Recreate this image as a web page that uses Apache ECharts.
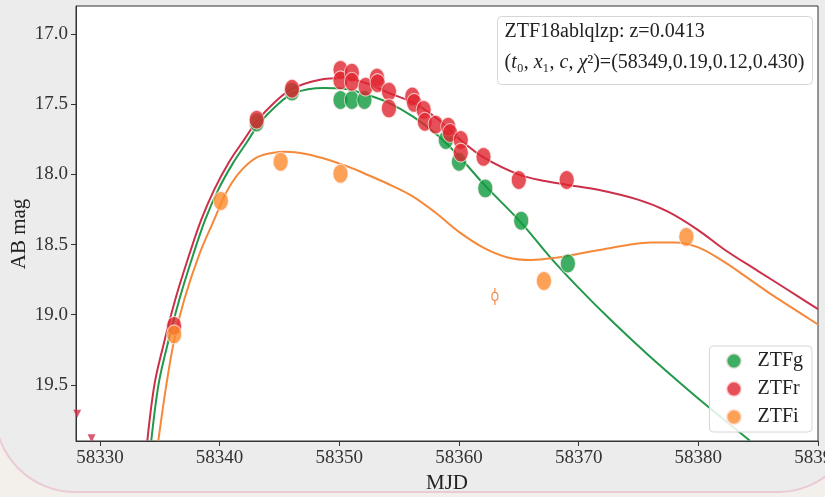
<!DOCTYPE html>
<html>
<head>
<meta charset="utf-8">
<script src="https://cdn.jsdelivr.net/npm/echarts@6/dist/echarts.min.js"></script>
<style>
html,body{margin:0;padding:0;background:#f3efeb;}
#chart{width:825px;height:497px;}
</style>
</head>
<body>
<div id="chart"></div>
<script>
// ---------- data ----------
const xTicks = [58330, 58340, 58350, 58360, 58370, 58380, 58390];
const yTicks = [17.0, 17.5, 18.0, 18.5, 19.0, 19.5];

const gMJD = [58343.1, 58346.05, 58350.1, 58351.05, 58352.1, 58358.9, 58360.0, 58362.2, 58365.2, 58369.1];
const gMag = [17.63, 17.41, 17.47, 17.47, 17.47, 17.755, 17.91, 18.10, 18.33, 18.635];

const rMJD = [58336.2, 58343.1, 58346.05, 58350.1, 58350.1, 58351.05, 58351.05, 58352.2, 58353.15, 58353.2,
              58354.15, 58354.15, 58356.1, 58356.25, 58357.05, 58357.15, 58358.05, 58359.1, 58359.25, 58360.15,
              58360.15, 58362.05, 58365.0, 58369.0];
const rMag = [19.08, 17.61, 17.39, 17.255, 17.33, 17.275, 17.34, 17.375, 17.31, 17.35,
              17.41, 17.53, 17.445, 17.49, 17.54, 17.625, 17.645, 17.66, 17.705, 17.755,
              17.845, 17.875, 18.04, 18.04];

const iMJD = [58336.2, 58340.1, 58345.1, 58350.1, 58367.1, 58379.0];
const iMag = [19.14, 18.19, 17.91, 17.995, 18.76, 18.445];

// red upper limits
const rLimMJD = [58328.1, 58329.3];
const rLimMag = [19.705, 19.88];

// low-significance i point with error bar
const iLowMJD = [58363.0];
const iLowMag = [18.87];
const iLowErr = [0.06];

// model curves
const gModelMJD = [58334.29, 58334.88, 58335.54, 58336.63, 58337.79, 58338.79, 58339.88, 58341.13, 58342.29, 58343.29,
                   58344.71, 58346.21, 58348.7, 58350.38, 58352.13, 58354.13, 58356.2, 58358.29, 58360.13, 58362.13,
                   58365.13, 58367.63, 58369.96, 58372.71, 58375.79, 58379.13, 58381.63, 58384.29];
const gModelMag = [19.897, 19.505, 19.249, 18.893, 18.573, 18.324, 18.11, 17.918, 17.769, 17.64,
                   17.512, 17.42, 17.384, 17.39, 17.427, 17.49, 17.59, 17.726, 17.883, 18.075,
                   18.338, 18.591, 18.805, 19.04, 19.285, 19.534, 19.712, 19.897];

const rModelMJD = [58333.96, 58334.54, 58335.21, 58336.29, 58337.46, 58338.46, 58339.54, 58340.79, 58342.04, 58343.13,
                   58344.54, 58346.04, 58348.29, 58350.38, 58352.46, 58354.13, 58356.2, 58358.29, 58360.13, 58362.13,
                   58364.96, 58367.04, 58369.13, 58371.63, 58374.96, 58377.46, 58379.96, 58382.2, 58384.96, 58387.46,
                   58390.0];
const rModelMag = [19.897, 19.505, 19.249, 18.893, 18.573, 18.324, 18.11, 17.911, 17.754, 17.619,
                   17.491, 17.391, 17.327, 17.313, 17.356, 17.42, 17.49, 17.61, 17.754, 17.883,
                   18.0, 18.046, 18.075, 18.11, 18.18, 18.265, 18.395, 18.537, 18.687, 18.822,
                   18.96];

const iModelMJD = [58334.88, 58335.54, 58336.21, 58337.04, 58338.29, 58339.54, 58340.54, 58341.63, 58343.04, 58344.38,
                   58345.54, 58347.21, 58349.13, 58351.2, 58352.0, 58354.0, 58356.0, 58358.0, 58360.0, 58362.0,
                   58364.0, 58366.0, 58368.0, 58370.0, 58372.0, 58374.0, 58376.0, 58378.0, 58380.0, 58382.0,
                   58384.0, 58386.0, 58388.0, 58390.0];
const iModelMag = [19.897, 19.505, 19.178, 18.893, 18.573, 18.324, 18.131, 17.989, 17.883, 17.847,
                   17.838, 17.854, 17.897, 17.96, 17.99, 18.065, 18.15, 18.27, 18.41, 18.52,
                   18.59, 18.61, 18.595, 18.565, 18.535, 18.505, 18.485, 18.485, 18.52, 18.615,
                   18.73, 18.85, 18.96, 19.07];

const infoLine1 = 'ZTF18ablqlzp: z=0.0413';
const infoParams = '(58349,0.19,0.12,0.430)';
const yAxisTitle = 'AB mag';
const xAxisTitle = 'MJD';

// ---------- helpers ----------
const zip = (a, b) => a.map((v, i) => [v, b[i]]);
const FONT = '"Liberation Serif", "DejaVu Serif", serif';

const cG = '#0e9a3d', cR = '#e0262f', cI = '#fb8a2a';
const lG = '#22994a', lR = '#cc2f48', lI = '#f5893a';

const chart = echarts.init(document.getElementById('chart'), null, {renderer: 'canvas'});

const markerStyle = (c) => ({color: c, borderColor: 'rgba(255,235,235,0.9)', borderWidth: 1});

const option = {
  backgroundColor: '#f3efeb',
  animation: false,
  graphic: [
    {
      type: 'rect', z: -10, silent: true,
      shape: {x: -5, y: -100, width: 863, height: 592, r: 80},
      style: {fill: '#ececec', stroke: '#ebc9d5', lineWidth: 2}
    },
    {
      type: 'text', z: 50, x: 19, y: 234, rotation: Math.PI / 2,
      style: {text: yAxisTitle, font: '21px ' + FONT, fill: '#222', align: 'center', verticalAlign: 'middle'}
    },
    {
      type: 'group', left: 497, top: 16, z: 50,
      children: [
        {type: 'rect', shape: {x: 0, y: 0, width: 315, height: 68, r: 4},
         style: {fill: 'rgba(255,255,255,0.85)', stroke: '#d6d6d6', lineWidth: 1}},
        {type: 'text', x: 7, y: 5,
         style: {text: infoLine1, font: '20px ' + FONT, fill: '#222'}},
        {type: 'text', x: 7, y: 36,
         style: {
           text: '{n|(}{i|t}{n|₀, }{i|x}{n|₁, }{i|c}{n|, }{i|χ}{n|²)=' + infoParams + '}',
           rich: {
             n: {fontFamily: FONT, fontSize: 20, fill: '#222'},
             i: {fontFamily: FONT, fontSize: 20, fontStyle: 'italic', fill: '#222'}
           }
         }}
      ]
    }
  ],
  grid: {
    left: 76, top: 6, right: 7, bottom: 56,
    containLabel: false, outerBoundsMode: 'none',
    show: true, backgroundColor: '#ffffff', borderColor: '#333', borderWidth: 1
  },
  legend: {
    data: ['ZTFg', 'ZTFr', 'ZTFi'],
    orient: 'vertical',
    right: 13, bottom: 65,
    itemWidth: 15, itemHeight: 19, itemGap: 8,
    symbolKeepAspect: false,
    padding: [5, 9, 5, 16],
    backgroundColor: 'rgba(255,255,255,0.85)',
    borderColor: '#d6d6d6', borderWidth: 1, borderRadius: 4,
    textStyle: {fontFamily: FONT, fontSize: 20, color: '#222', padding: [0, 0, 0, 11]}
  },
  xAxis: {
    type: 'value', min: 58328, max: 58390,
    name: xAxisTitle, nameLocation: 'middle', nameGap: 30,
    nameTextStyle: {fontFamily: FONT, fontSize: 21, color: '#222'},
    axisLine: {show: true, lineStyle: {color: '#333', width: 1}},
    axisTick: {show: true, inside: false, length: 5, customValues: xTicks, lineStyle: {color: '#333'}},
    axisLabel: {customValues: xTicks, fontFamily: FONT, fontSize: 19, color: '#333', margin: 8,
                showMaxLabel: true, showMinLabel: true, hideOverlap: false,
                formatter: (v) => String(Math.round(v))},
    splitLine: {show: false}
  },
  yAxis: {
    type: 'value', min: 16.8, max: 19.9, inverse: true,
    axisLine: {show: true, lineStyle: {color: '#333', width: 1}},
    axisTick: {show: true, inside: false, length: 5, customValues: yTicks, lineStyle: {color: '#333'}},
    axisLabel: {customValues: yTicks, fontFamily: FONT, fontSize: 19, color: '#333', margin: 8,
                formatter: (v) => v.toFixed(1)},
    splitLine: {show: false}
  },
  series: [
    {name: 'g model', type: 'line', data: zip(gModelMJD, gModelMag), smooth: 0.35, showSymbol: false,
     lineStyle: {color: lG, width: 2}, itemStyle: {color: lG}, z: 2, silent: true},
    {name: 'r model', type: 'line', data: zip(rModelMJD, rModelMag), smooth: 0.35, showSymbol: false,
     lineStyle: {color: lR, width: 2}, itemStyle: {color: lR}, z: 2, silent: true},
    {name: 'i model', type: 'line', data: zip(iModelMJD, iModelMag), smooth: 0.35, showSymbol: false,
     lineStyle: {color: lI, width: 2}, itemStyle: {color: lI}, z: 2, silent: true},
    {name: 'ZTFg', type: 'scatter', data: zip(gMJD, gMag), symbol: 'circle', symbolSize: [15, 19],
     itemStyle: markerStyle(cG), z: 3},
    {name: 'ZTFr', type: 'scatter', data: zip(rMJD, rMag), symbol: 'circle', symbolSize: [15, 19],
     itemStyle: markerStyle(cR), z: 4},
    {name: 'ZTFi', type: 'scatter', data: zip(iMJD, iMag), symbol: 'circle', symbolSize: [15, 19],
     itemStyle: markerStyle(cI), z: 5},
    {name: 'r limits', type: 'scatter', data: zip(rLimMJD, rLimMag), symbol: 'triangle', symbolRotate: 180,
     symbolSize: [8, 8], itemStyle: {color: '#d22f4a'}, z: 5},
    {name: 'i low', type: 'custom', z: 5,
     data: iLowMJD.map((m, k) => [m, iLowMag[k], iLowErr[k]]),
     renderItem: (params, api) => {
       const x = api.value(0), y = api.value(1), e = api.value(2);
       const p = api.coord([x, y]);
       const a = api.coord([x, y - e]);
       const b = api.coord([x, y + e]);
       return {type: 'group', children: [
         {type: 'line', shape: {x1: a[0], y1: a[1], x2: b[0], y2: b[1]},
          style: {stroke: '#f08a4b', lineWidth: 1.2}},
         {type: 'ellipse', shape: {cx: p[0], cy: p[1], rx: 3, ry: 4},
          style: {fill: '#fff', stroke: '#f08a4b', lineWidth: 1.2}}
       ]};
     }}
  ]
};
chart.setOption(option);
</script>
</body>
</html>
